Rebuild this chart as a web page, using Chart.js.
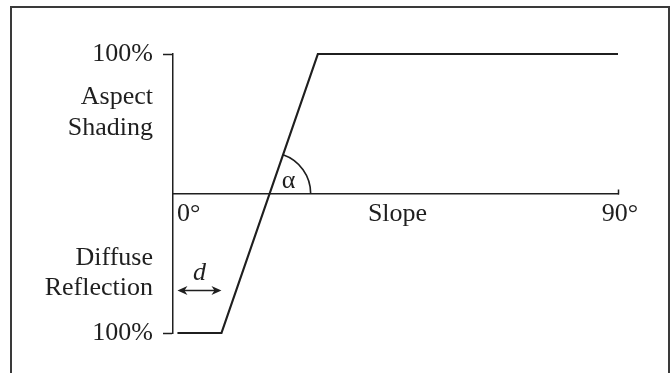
<!DOCTYPE html>
<html>
<head>
<meta charset="utf-8">
<script src="https://cdn.jsdelivr.net/npm/chart.js@4"></script>
<style>
  html, body { margin: 0; padding: 0; background: #ffffff; overflow: hidden; }
  #frame {
    position: absolute; left: 10px; top: 6px; width: 660px; height: 420px;
    box-sizing: border-box; border: 2px solid #3a3a3a; border-bottom: none;
  }
  #wrap { position: absolute; left: 0; top: 0; width: 670px; height: 373px; }
</style>
</head>
<body>
<div id="frame"></div>
<div id="wrap"><canvas id="slopeChart"></canvas></div>
<script>
// slope (degrees) against response (+ = aspect shading, - = diffuse reflection)
const slopeDeg = [0.9, 9.8, 29.3, 90];
const responsePct = [-100, -100, 100, 100];

const yTickValues = [100, 58, -57, -100];
const yTickLabels = ["100%", ["Aspect", "Shading"], ["Diffuse", "Reflection"], "100%"];
const xTickValues = [45, 90];
const xTickLabels = ["Slope", "90°"];
const originTickValues = [0];
const originTickLabels = ["0°"];
const offsetD = 9.8;

const ink = "#1f1f1f";
const serif = { family: "'Liberation Serif', 'Times New Roman', serif", size: 26, lineHeight: 1.17 };

// angle arc (alpha) and the d offset arrow
const angleMarks = {
    id: "angleMarks",
    afterDatasetsDraw(chart) {
        const { ctx, scales: { x, y } } = chart;
        const i = responsePct.findIndex((v, k) => k > 0 && responsePct[k - 1] < 0 && v >= 0);
        const x0 = x.getPixelForValue(slopeDeg[i - 1]), y0 = y.getPixelForValue(responsePct[i - 1]);
        const x1 = x.getPixelForValue(slopeDeg[i]), y1 = y.getPixelForValue(responsePct[i]);
        const cy = y.getPixelForValue(0);
        const cx = x0 + (cy - y0) / (y1 - y0) * (x1 - x0);
        const ang = Math.atan2(y1 - y0, x1 - x0);

        ctx.save();
        ctx.strokeStyle = ink;
        ctx.fillStyle = ink;
        ctx.lineWidth = 1.6;
        ctx.beginPath();
        ctx.arc(cx, cy, 41, ang, 0);
        ctx.stroke();

        ctx.font = "26px 'Liberation Serif', serif";
        ctx.textAlign = "center";
        ctx.textBaseline = "middle";
        ctx.fillText("α", cx + 19, cy - 12);

        // d arrow
        const ay = y.getPixelForValue(-69.5);
        const ax0 = x.getPixelForValue(slopeDeg[0]);
        const ax1 = x.getPixelForValue(offsetD);
        ctx.lineWidth = 1.5;
        ctx.beginPath();
        ctx.moveTo(ax0 + 3, ay);
        ctx.lineTo(ax1 - 3, ay);
        ctx.stroke();
        [[ax0, 1], [ax1, -1]].forEach(([px, dir]) => {
            ctx.beginPath();
            ctx.moveTo(px, ay);
            ctx.lineTo(px + dir * 10, ay - 4.5);
            ctx.lineTo(px + dir * 7, ay);
            ctx.lineTo(px + dir * 10, ay + 4.5);
            ctx.closePath();
            ctx.fill();
        });
        ctx.font = "italic 26px 'Liberation Serif', serif";
        ctx.fillText("d", (ax0 + ax1) / 2, ay - 17);
        ctx.restore();
    }
};

new Chart(document.getElementById("slopeChart"), {
    type: "line",
    data: {
        datasets: [{
            data: slopeDeg.map((s, i) => ({ x: s, y: responsePct[i] })),
            borderColor: ink,
            borderWidth: 2.2,
            pointRadius: 0,
            tension: 0,
            fill: false,
            clip: false
        }]
    },
    options: {
        responsive: true,
        maintainAspectRatio: false,
        animation: false,
        layout: { padding: { left: 0, right: 52, top: 54, bottom: 40 } },
        plugins: { legend: { display: false }, tooltip: { enabled: false } },
        scales: {
            y: {
                type: "linear",
                position: "left",
                min: -100,
                max: 100,
                afterBuildTicks: s => { s.ticks = yTickValues.map(v => ({ value: v })); },
                afterFit: s => { s.width = 173; },
                ticks: {
                    autoSkip: false,
                    padding: 10,
                    color: ink,
                    font: serif,
                    callback: (v, i) => yTickLabels[i]
                },
                grid: {
                    drawOnChartArea: false,
                    tickLength: 10,
                    tickWidth: 1.5,
                    tickColor: c => (c.tick && Math.abs(c.tick.value) === 100) ? ink : "transparent"
                },
                border: { color: ink, width: 1.5 }
            },
            x: {
                type: "linear",
                position: { y: 0 },
                min: 0,
                max: 90,
                afterBuildTicks: s => { s.ticks = xTickValues.map(v => ({ value: v })); },
                afterFit: s => { s.height = 0; },
                ticks: {
                    autoSkip: false,
                    maxRotation: 0,
                    padding: 10,
                    labelOffset: 2,
                    color: ink,
                    font: serif,
                    callback: (v, i) => xTickLabels[i]
                },
                grid: {
                    drawOnChartArea: false,
                    tickLength: -5,
                    tickWidth: 1.5,
                    tickColor: c => (c.tick && c.tick.value === 90) ? ink : "transparent"
                },
                border: { color: ink, width: 1.5 }
            },
            x0: {
                type: "linear",
                axis: "x",
                position: { y: 0 },
                min: 0,
                max: 90,
                afterBuildTicks: s => { s.ticks = originTickValues.map(v => ({ value: v })); },
                afterFit: s => { s.height = 0; },
                ticks: {
                    align: "start",
                    autoSkip: false,
                    maxRotation: 0,
                    padding: 5,
                    labelOffset: 4,
                    color: ink,
                    font: serif,
                    callback: (v, i) => originTickLabels[i]
                },
                grid: { display: false, drawTicks: false, drawOnChartArea: false },
                border: { display: false }
            }
        }
    },
    plugins: [angleMarks]
});
</script>
</body>
</html>
